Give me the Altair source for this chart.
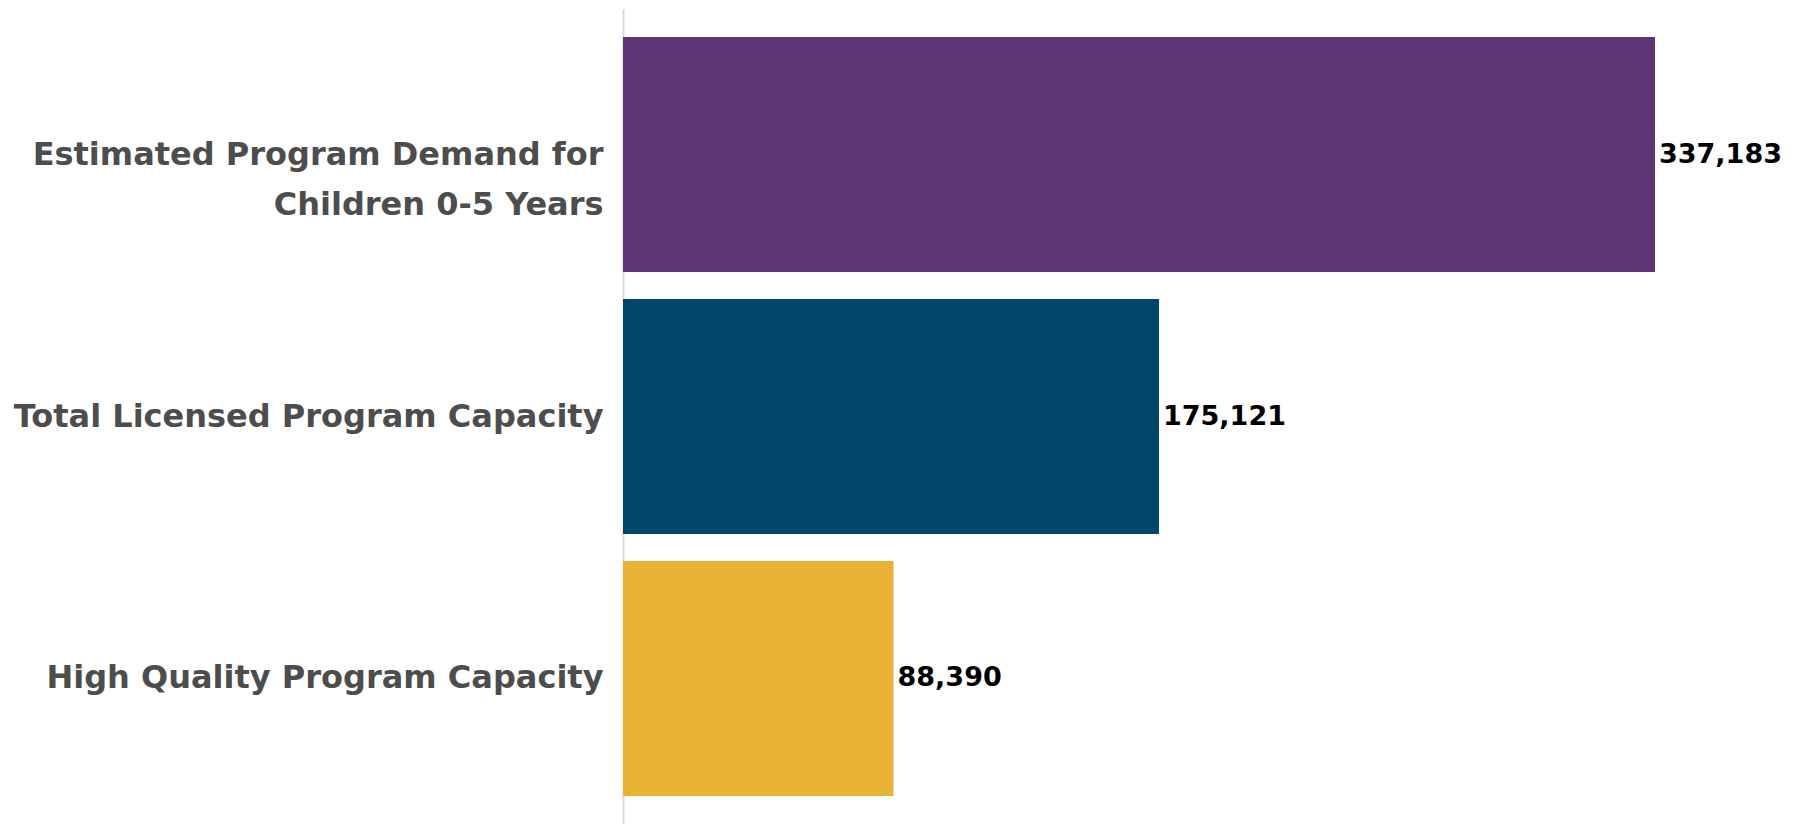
import altair as alt
import pandas as pd

categories = ["Estimated Program Demand for\nChildren 0-5 Years",
              "Total Licensed Program Capacity",
              "High Quality Program Capacity"]
values = [337183, 175121, 88390]
labels = ["337,183", "175,121", "88,390"]
colors = ["#5f3675", "#00476b", "#e8b234"]

df = pd.DataFrame({"category": categories, "value": values, "label": labels, "color": colors})

y = alt.Y("category:N", sort=categories,
          scale=alt.Scale(paddingInner=0.103, paddingOuter=0.107),
          axis=alt.Axis(title=None, ticks=False, domainColor="#d9d9d9", domainWidth=2,
                        labelFont="DejaVu Sans", labelFontWeight="bold", labelFontSize=32,
                        labelColor="#4d4d4d", labelPadding=20, labelLimit=700,
                        labelLineHeight=50, labelExpr="split(datum.label, '\\n')"))
x = alt.X("value:Q", scale=alt.Scale(domain=[0, 337183], nice=False, zero=True), axis=None)

bars = alt.Chart(df).mark_bar().encode(
    x=x, y=y, color=alt.Color("color:N", scale=None))

text = alt.Chart(df).mark_text(align="left", baseline="middle", dx=4, font="DejaVu Sans",
                               fontWeight="bold", fontSize=27, color="#000000").encode(
    x=x, y=alt.Y("category:N", sort=categories), text="label:N")

chart = alt.layer(bars, text).properties(
    width=1032, height=815,
    background="#ffffff",
    autosize=alt.AutoSizeParams(type="none"),
    padding={"left": 615, "top": 1, "right": 130, "bottom": 0},
).configure_view(strokeWidth=0, stroke=None)

chart.save("out.html", embed_options={"renderer": "svg", "actions": False})
